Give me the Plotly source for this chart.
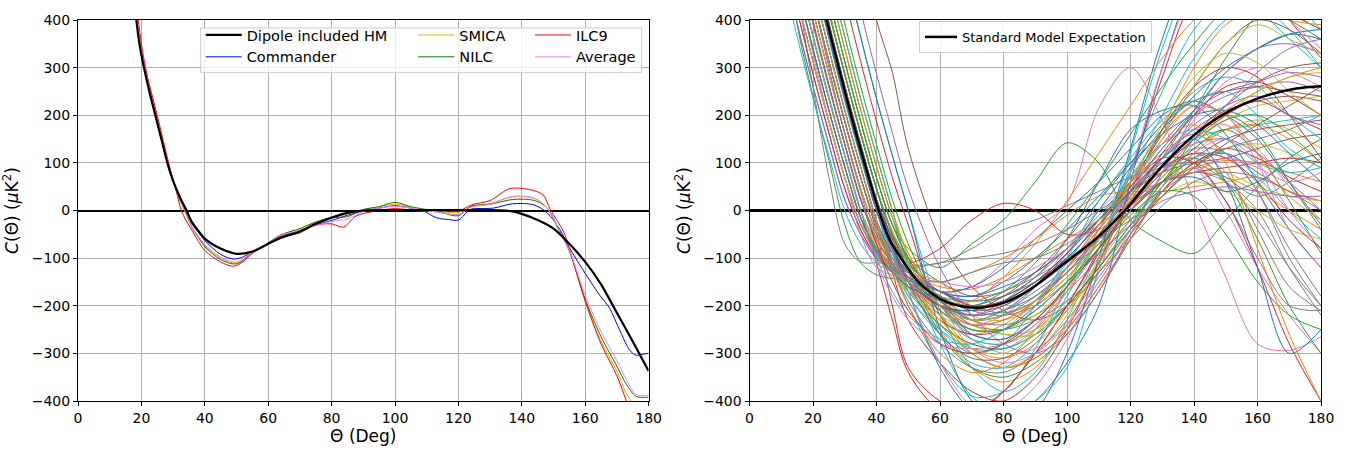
import plotly.graph_objects as go

# ---------------- Left panel data ----------------
dip_x = [17.5, 18.4, 19.5, 20.8, 22.5, 24.4, 26.3, 28.2, 30, 32, 34.2, 36, 38, 40, 45, 50, 55, 60, 63.7, 70, 75, 80, 85, 90, 100, 110, 120, 130, 136, 140, 145, 150, 155, 160, 165, 170, 175, 180]
dip_y = [480, 400, 345, 300, 250, 200, 150, 100, 62, 30, 0, -25, -43, -59, -80, -91, -86, -70, -58, -44, -28, -15, -5, 0, 1, 1, 1, 1, -1, -7, -20, -38, -70, -108, -155, -215, -275, -337]

com_x = [17.5, 18.4, 20.8, 24.4, 28.2, 30, 32, 34.4, 36, 38, 40, 45, 49.5, 55, 60, 63.7, 70, 75, 80, 85, 90, 95, 100, 105, 109, 113, 117, 120, 123.7, 127, 131, 137, 143.7, 148, 152, 155, 160, 164.7, 167.5, 171, 174, 176, 178, 180]
com_y = [480, 400, 300, 200, 100, 63, 30, 0, -28, -46, -63, -92, -102, -88, -70, -55, -42, -30, -21, -10, -1, 5, 10, 5, -1, -15, -19, -20, 2, 4, 5, 14, 12, -5, -40, -78, -132, -179, -203, -253, -293, -304, -302, -300]

smica_x = [17.5, 18.6, 21, 24.6, 28.4, 30, 32, 33.7, 36, 38, 40, 45, 50, 55, 60, 63.7, 70, 75, 80, 85, 90, 95, 100, 105, 110, 115, 120, 124, 130, 137, 144, 148, 152, 155, 160, 165, 170, 173, 175, 178]
smica_y = [480, 400, 300, 200, 100, 65, 25, 0, -35, -55, -74, -100, -110, -88, -68, -52, -38, -25, -15, -8, 2, 8, 13, 7, 0, -3, -4, 8, 15, 28, 25, 5, -45, -85, -190, -275, -337, -385, -405, -450]

nilc_x = [17.5, 18.6, 21, 24.6, 28.4, 30, 32, 33.7, 36, 38, 40, 45, 50, 55, 60, 63.7, 70, 75, 80, 85, 90, 95, 100, 105, 110, 115, 120, 124, 130, 137, 144, 148, 152, 155, 160, 165, 170, 173, 176, 180]
nilc_y = [480, 400, 300, 200, 100, 64, 24, 0, -36, -57, -76, -103, -112, -89, -68, -52, -38, -24, -15, -13, 2, 8, 17, 8, 2, -5, -11, 9, 13, 23, 21, 5, -45, -85, -186, -265, -327, -365, -390, -392]

avg_x = [17.5, 18.6, 21, 24.6, 28.4, 30, 32, 33.7, 36, 38, 40, 45, 50, 55, 60, 63.7, 70, 75, 80, 85, 90, 95, 100, 105, 110, 115, 120, 124, 130, 137, 144, 148, 152, 155, 160, 165, 170, 173, 176, 180]
avg_y = [480, 400, 300, 200, 100, 64, 24, 0, -35, -55, -72, -98, -108, -88, -69, -53, -42, -32, -23, -18, -2, 5, 9, 5, 0, -5, -8, 7, 13, 30, 26, 5, -45, -83, -178, -255, -315, -355, -386, -388]

ilc_x = [17.8, 19, 21.3, 25, 28.6, 30, 31, 32.6, 34, 36, 38, 40, 45, 49, 52, 55, 60, 63.7, 70, 74.2, 80, 83.7, 87.9, 95, 100, 107.9, 115, 120, 124.2, 130, 136.3, 143.7, 146.8, 149, 153.2, 155, 160, 165, 170, 173, 176]
ilc_y = [480, 400, 300, 200, 100, 64, 40, 0, -20, -42, -65, -84, -108, -117, -108, -90, -70, -56, -47, -32, -28, -35, -11, 0, 4, -1, -2, -1, 12, 21, 46, 42, 32, 2, -45, -80, -190, -280, -347, -400, -450]

# ---------------- Right panel data ----------------
sm_x = [14, 17, 20, 22, 24.3, 28.1, 32, 36.2, 40.7, 44, 47.7, 53.5, 62, 71.4, 80, 88.3, 98.7, 109.2, 118.2, 130.2, 140.7, 151.2, 161.7, 172.2, 180]
sm_y = [780, 640, 530, 465, 400, 300, 200, 100, 0, -59, -100, -152, -192, -204, -194, -166, -113, -59, 0, 95, 162, 209, 239, 256, 261]

theta_sim = [10, 15, 20, 25, 30, 35, 40, 45, 50, 60, 70, 80, 90, 100, 110, 120, 130, 140, 150, 160, 170, 180]
sim01 = [1120, 814, 579, 421, 287, 163, 46, -45, -110, -170, -180, -160, -130, -80, -20, 50, 130, 210, 290, 340, 370, 360]
sim02 = [876, 616, 449, 313, 187, 69, -30, -90, -130, -160, -165, -140, -100, -60, -20, 25, 60, 90, 105, 100, 80, 60]
sim03 = [620, 390, 240, 105, -30, -110, -135, -143, -148, -170, -200, -215, -190, -140, -70, 10, 110, 210, 320, 410, 450, 430]
sim04 = [876, 616, 449, 313, 187, 69, -45, -200, -330, -400, -420, -380, -300, -200, -80, 80, 280, 450, 520, 480, 400, 320]
sim05 = [616, 449, 313, 187, 69, -28, -85, -120, -150, -190, -230, -220, -180, -120, -40, 40, 110, 180, 220, 240, 200, 180]
sim06 = [2200, 1700, 1300, 1000, 760, 560, 400, 290, 130, -60, -160, -210, -230, -200, -130, -40, 40, 100, 120, 80, 40, 20]
sim07 = [1060, 752, 542, 393, 261, 139, 23, -55, -105, -170, -160, -110, -40, 15, 215, 300, 189, 20, -140, -280, -294, -265]
sim08 = [750, 470, 260, 70, -70, -108, -110, -112, -115, -110, -80, -40, -20, 10, 40, 70, 90, 100, 60, -20, -120, -200]
sim09 = [690, 505, 365, 235, 115, 0, -65, -110, -140, -200, -270, -280, -250, -190, -110, -20, 60, 130, 170, 190, 170, 130]
sim10 = [1000, 690, 505, 365, 235, 115, 0, -110, -200, -320, -390, -380, -290, -160, -40, 80, 200, 320, 400, 430, 380, 300]
sim11 = [752, 542, 393, 261, 139, 23, -50, -100, -130, -170, -160, -120, -60, 0, 60, 130, 200, 230, 200, 150, 60, -30]
sim12 = [1300, 1000, 690, 505, 365, 235, 115, 0, -100, -250, -330, -360, -330, -240, -110, 30, 170, 300, 390, 420, 410, 380]
sim13 = [1180, 876, 616, 449, 313, 187, 69, -30, -80, -120, -70, -20, 60, 142, 100, -20, -65, -90, -20, 50, 110, 150]
sim14 = [814, 579, 421, 287, 163, 46, -45, -90, -110, -80, -20, 15, 0, -50, -40, 10, 60, 80, 90, 100, 110, 100]
sim15 = [542, 393, 261, 139, 23, -50, -100, -120, -130, -170, -200, -190, -150, -90, -20, 60, 140, 210, 250, 270, 290, 280]
sim16 = [1120, 814, 579, 421, 287, 163, 46, -45, -100, -150, -180, -170, -130, -80, -20, 40, 80, 100, 110, 130, 150, 160]
sim17 = [690, 505, 365, 235, 115, 0, -80, -130, -160, -210, -240, -220, -160, -80, 0, 60, 100, 90, 0, -120, -220, -300]
sim18 = [616, 449, 313, 187, 69, -30, -85, -110, -120, -110, -100, -90, -70, -40, 0, 40, 80, 120, 80, -40, -160, -210]
sim19 = [653, 477, 339, 211, 92, -15, -80, -120, -150, -180, -230, -260, -260, -210, -130, -40, 40, 100, 130, 140, 120, 90]
sim20 = [1700, 1300, 1000, 690, 505, 365, 235, 115, 0, -210, -330, -380, -340, -230, -80, 90, 250, 380, 440, 420, 360, 300]
sim21 = [1060, 752, 542, 393, 261, 139, 23, -55, -110, -170, -190, -180, -140, -60, 60, 170, 210, 220, 160, 60, -40, -120]
sim22 = [653, 477, 339, 211, 92, -15, -75, -115, -130, -150, -130, -100, -60, -10, 30, 40, 40, 50, 60, 70, 40, 20]
sim23 = [1240, 938, 653, 477, 339, 211, 92, -15, -110, -260, -330, -350, -320, -260, -170, -60, 50, 150, 200, 160, 60, -40]
sim24 = [938, 653, 477, 339, 211, 92, -20, -130, -230, -320, -380, -400, -350, -250, -110, 40, 170, 260, 300, 280, 200, 110]
sim25 = [579, 421, 287, 163, 46, -40, -100, -130, -150, -210, -260, -270, -230, -160, -60, 40, 130, 200, 240, 260, 270, 250]
sim26 = [1120, 814, 579, 421, 287, 163, 46, -50, -120, -200, -230, -220, -190, -130, -50, 30, 110, 170, 210, 230, 240, 230]
sim27 = [1000, 690, 505, 365, 235, 115, 0, -85, -150, -240, -280, -290, -250, -170, -60, 50, 150, 220, 200, 100, -40, -120]
sim28 = [1180, 876, 616, 449, 313, 187, 69, -30, -100, -190, -220, -190, -140, -80, -10, 60, 120, 160, 120, 40, -100, -200]
sim29 = [752, 542, 393, 261, 139, 23, -55, -100, -130, -150, -220, -230, -200, -140, -60, 20, 90, 150, 190, 220, 230, 240]
sim30 = [876, 616, 449, 313, 187, 69, -30, -110, -180, -260, -320, -330, -280, -180, -60, 60, 170, 250, 280, 260, 200, 150]
sim31 = [616, 449, 313, 187, 69, -28, -90, -130, -160, -190, -230, -210, -160, -90, 0, 90, 170, 240, 300, 340, 370, 380]
sim32 = [1060, 752, 542, 393, 261, 139, 23, -60, -130, -230, -260, -240, -190, -120, -40, 30, 60, 80, 70, 40, 0, -40]
sim33 = [752, 542, 393, 261, 139, 23, -60, -110, -150, -200, -220, -210, -180, -130, -70, 0, 60, 110, 60, -60, -200, -300]
sim34 = [1540, 1180, 876, 616, 449, 313, 187, 69, -30, -220, -300, -330, -310, -250, -160, -60, 40, 100, 130, 110, 70, 40]
sim35 = [1120, 814, 579, 421, 287, 163, 46, -45, -110, -190, -220, -210, -170, -120, -60, 10, 80, 130, 120, 40, -80, -180]
sim36 = [814, 579, 421, 287, 163, 46, -45, -110, -150, -200, -210, -180, -130, -60, 20, 100, 180, 230, 250, 260, 250, 240]
sim37 = [690, 505, 365, 235, 115, 0, -70, -130, -170, -200, -270, -300, -290, -240, -150, -40, 80, 190, 270, 300, 290, 260]
sim38 = [1000, 690, 505, 365, 235, 115, 0, -80, -130, -180, -190, -170, -140, -100, -60, -20, 30, 90, 20, -100, -200, -210]
sim39 = [1300, 1000, 690, 505, 365, 235, 115, 0, -90, -190, -240, -260, -250, -200, -120, -30, 30, 60, 40, 0, -40, -60]
sim40 = [505, 365, 235, 115, 0, -70, -110, -130, -150, -220, -270, -280, -240, -160, -60, 40, 110, 150, 170, 180, 190, 200]
sim41 = [1120, 814, 579, 421, 287, 163, 46, -70, -170, -330, -420, -440, -400, -320, -200, 60, 300, 480, 560, 520, 460, 420]
sim42 = [938, 653, 477, 339, 211, 92, -20, -100, -160, -240, -300, -330, -310, -250, -160, -60, 40, 120, 170, 180, 150, 100]
sim43 = [1380, 1060, 752, 542, 393, 261, 139, 23, -70, -200, -250, -250, -210, -150, -80, 0, 70, 130, 170, 120, 20, -90]
sim44 = [690, 505, 365, 235, 115, 0, -110, -230, -340, -420, -430, -380, -300, -200, -90, 20, 120, 200, 260, 270, 240, 200]
sim45 = [1000, 690, 505, 365, 235, 115, 0, -80, -130, -200, -220, -200, -160, -100, -30, 40, 100, 140, 150, 120, 60, 0]
sim46 = [653, 477, 339, 211, 92, -15, -80, -120, -145, -180, -210, -200, -160, -110, -50, 20, 90, 160, 220, 270, 300, 310]
sim47 = [1060, 752, 542, 393, 261, 139, 23, -80, -170, -320, -410, -420, -370, -270, -130, 80, 300, 460, 500, 460, 400, 340]
sim48 = [814, 579, 421, 287, 163, 46, -45, -100, -140, -180, -230, -240, -220, -170, -100, -20, 40, 80, 60, 0, -120, -220]
sim49 = [814, 579, 421, 287, 163, 46, -45, -110, -160, -220, -250, -250, -220, -160, -80, 0, 60, 90, 80, 50, 30, 20]
sim50 = [1300, 1000, 690, 505, 365, 235, 115, 0, -120, -280, -390, -430, -400, -330, -120, 120, 340, 500, 560, 520, 450, 380]
sim51 = [938, 653, 477, 339, 211, 92, -20, -90, -130, -170, -180, -150, -100, -40, 30, 100, 160, 200, 210, 180, 120, 60]
sim52 = [752, 542, 393, 261, 139, 23, -60, -110, -150, -220, -290, -310, -280, -210, -110, 0, 90, 160, 210, 250, 280, 300]
sim53 = [876, 616, 449, 313, 187, 69, -30, -110, -170, -240, -280, -290, -260, -200, -120, -30, 60, 140, 190, 200, 160, 100]
sim54 = [579, 421, 287, 163, 46, -40, -95, -125, -140, -170, -200, -190, -150, -100, -30, 40, 90, 120, 110, 60, -20, -80]
sim55 = [1900, 1460, 1120, 814, 579, 421, 287, 163, 46, -120, -220, -280, -300, -260, -170, -50, 80, 200, 290, 340, 350, 330]
sim56 = [1060, 752, 542, 393, 261, 139, 23, -60, -120, -190, -200, -180, -150, -110, -60, 0, 60, 110, 150, 170, 180, 190]
sim57 = [653, 477, 339, 211, 92, -15, -110, -180, -230, -280, -290, -280, -240, -170, -80, 20, 110, 170, 180, 130, 50, -20]
sim58 = [616, 449, 313, 187, 69, -28, -90, -125, -150, -190, -240, -250, -230, -190, -130, -60, 10, 60, 80, 70, 40, 0]
sim59 = [1120, 814, 579, 421, 287, 163, 46, -45, -110, -200, -230, -220, -190, -140, -70, 0, 70, 140, 200, 250, 280, 290]
sim60 = [938, 653, 477, 339, 211, 92, -20, -110, -180, -250, -290, -290, -260, -200, -120, -30, 50, 110, 120, 70, 0, -60]
sim61 = [1700, 1300, 1000, 690, 505, 365, 235, 115, 0, -250, -400, -450, -420, -300, -100, 130, 360, 520, 560, 500, 420, 380]
sim62 = [752, 542, 393, 261, 139, 23, -60, -120, -160, -200, -190, -140, -70, 20, 120, 220, 320, 400, 450, 430, 400, 390]
sim63 = [1180, 876, 616, 449, 313, 187, 69, -30, -100, -180, -200, -170, -110, -30, 60, 160, 260, 350, 420, 430, 400, 360]
sim64 = [876, 616, 449, 313, 187, 69, -30, -100, -150, -200, -210, -190, -150, -90, -20, 50, 110, 100, 20, -120, -280, -400]
sim65 = [542, 393, 261, 139, 23, -50, -100, -125, -140, -170, -210, -220, -200, -150, -90, -30, 20, 40, 50, 40, 30, 30]
sim66 = [1000, 690, 505, 365, 235, 115, 0, -90, -150, -230, -260, -250, -200, -120, -30, 60, 160, 260, 350, 400, 380, 330]
sim67 = [700, 480, 330, 190, 70, -50, -120, -135, -140, -150, -160, -150, -120, -80, -30, 20, 60, 80, 110, 90, 60, 80]
sim68 = [900, 620, 450, 300, 160, 40, -70, -120, -140, -150, -130, -110, -100, -70, -20, 40, 90, 110, 70, 30, 60, 110]
sim69 = [690, 505, 365, 235, 115, 0, -75, -130, -170, -230, -300, -330, -300, -220, -100, 30, 150, 260, 350, 390, 360, 330]
sim70 = [1050, 720, 510, 360, 230, 110, 0, -90, -160, -250, -300, -280, -200, -100, 20, 110, 190, 230, 250, 200, 130, 90]
sim71 = [653, 477, 339, 211, 92, -15, -85, -130, -160, -190, -260, -270, -230, -160, -80, 0, 60, 70, 40, 60, 100, 120]
sim72 = [950, 660, 480, 340, 210, 90, -20, -120, -200, -300, -340, -320, -250, -150, -40, 70, 160, 220, 200, 120, 30, -20]
sim73 = [1100, 800, 570, 415, 285, 160, 45, -50, -120, -210, -250, -250, -210, -150, -80, -10, 40, 30, -50, -150, -220, -250]
sim74 = [780, 560, 400, 265, 140, 25, -70, -150, -210, -280, -300, -280, -230, -160, -80, 10, 90, 150, 200, 230, 200, 170]
sim75 = [752, 542, 393, 261, 139, 23, -60, -110, -150, -200, -240, -230, -190, -130, -60, 10, 80, 150, 220, 290, 340, 360]
sim76 = [1080, 760, 545, 395, 262, 140, 24, -70, -150, -260, -310, -310, -270, -200, -120, -40, 30, 90, 140, 180, 220, 260]
sim77 = [876, 616, 449, 313, 187, 69, -30, -100, -150, -200, -290, -320, -300, -240, -150, -50, 50, 120, 150, 100, 0, -80]
sim78 = [880, 620, 450, 315, 190, 70, -35, -120, -190, -280, -330, -340, -300, -230, -140, -50, 30, 90, 130, 150, 170, 200]
sim79 = [616, 449, 313, 187, 69, -28, -95, -140, -170, -230, -290, -300, -260, -170, -60, 60, 180, 280, 330, 310, 250, 200]
sim80 = [700, 510, 370, 240, 118, 0, -100, -170, -220, -270, -280, -250, -190, -110, -20, 70, 140, 170, 150, 100, 80, 90]
sim81 = [1000, 690, 505, 365, 235, 115, 0, -80, -140, -200, -210, -190, -150, -100, -30, 40, 110, 150, 60, -120, -300, -250]
sim82 = [1250, 940, 655, 478, 340, 212, 93, -15, -90, -200, -240, -230, -190, -120, -30, 60, 140, 180, 100, -80, -260, -400]

SIMS = [sim01, sim02, sim03, sim04, sim05, sim06, sim07, sim08, sim09, sim10,
        sim11, sim12, sim13, sim14, sim15, sim16, sim17, sim18, sim19, sim20,
        sim21, sim22, sim23, sim24, sim25, sim26, sim27, sim28, sim29, sim30,
        sim31, sim32, sim33, sim34, sim35, sim36, sim37, sim38, sim39, sim40,
        sim41, sim42, sim43, sim44, sim45, sim46, sim47, sim48, sim49, sim50,
        sim51, sim52, sim53, sim54, sim55, sim56, sim57, sim58, sim59, sim60,
        sim61, sim62, sim63, sim64, sim65, sim66, sim67, sim68, sim69, sim70,
        sim71, sim72, sim73, sim74, sim75, sim76, sim77, sim78, sim79, sim80,
        sim81, sim82]

TAB10 = ["#1f77b4", "#ff7f0e", "#2ca02c", "#d62728", "#9467bd",
         "#8c564b", "#e377c2", "#7f7f7f", "#bcbd22", "#17becf"]

X_TICKS = [0, 20, 40, 60, 80, 100, 120, 140, 160, 180]
Y_TICKS = [-400, -300, -200, -100, 0, 100, 200, 300, 400]

FONT = "DejaVu Sans"

fig = go.Figure()

# Left panel curves
left_series = [
    ("Commander", com_x, com_y, "blue", 1.0, "legend", 2),
    ("SMICA", smica_x, smica_y, "orange", 1.0, "legend2", 1),
    ("NILC", nilc_x, nilc_y, "green", 1.0, "legend2", 2),
    ("ILC9", ilc_x, ilc_y, "red", 1.0, "legend3", 1),
    ("Average", avg_x, avg_y, "violet", 1.0, "legend3", 2),
    ("Dipole included HM", dip_x, dip_y, "black", 2.2, "legend", 1),
]
for name, xs, ys, col, w, leg, rank in left_series:
    fig.add_trace(go.Scatter(
        x=xs, y=ys, mode="lines", name=name,
        line=dict(color=col, width=w, shape="spline", smoothing=0.9),
        legend=leg, legendrank=rank, xaxis="x", yaxis="y",
        hoverinfo="skip"))

# Right panel simulations
for i, ys in enumerate(SIMS):
    fig.add_trace(go.Scatter(
        x=theta_sim, y=ys, mode="lines",
        line=dict(color=TAB10[i % 10], width=1, shape="spline", smoothing=0.9),
        showlegend=False, xaxis="x2", yaxis="y2", hoverinfo="skip"))

fig.add_trace(go.Scatter(
    x=sm_x, y=sm_y, mode="lines", name="Standard Model Expectation",
    line=dict(color="black", width=2.5, shape="spline", smoothing=0.9),
    legend="legend4", xaxis="x2", yaxis="y2", hoverinfo="skip"))

axis_common = dict(
    showgrid=True, gridcolor="#b0b0b0", gridwidth=0.8,
    showline=True, linecolor="black", linewidth=1, mirror=True,
    ticks="outside", ticklen=4, tickcolor="black",
    tickfont=dict(family=FONT, size=14, color="black"),
)

plot_l, plot_r, plot_t, plot_b = 78, 25, 15, 40
W, H = 1346, 453
pw = W - plot_l - plot_r
ph = H - plot_t - plot_b


def px_x(px):
    return (px - plot_l) / pw


def px_y(py):
    return 1 - (py - plot_t) / ph


xtitle = dict(text="Θ (Deg)", font=dict(family=FONT, size=17, color="black"), standoff=3)
ytitle = dict(text="<i>C</i>(Θ) (<i>μ</i>K<sup>2</sup>)", font=dict(family=FONT, size=17, color="black"), standoff=8)

fig.update_layout(
    width=W, height=H,
    margin=dict(l=plot_l, r=plot_r, t=plot_t, b=plot_b),
    paper_bgcolor="white", plot_bgcolor="white",
    font=dict(family=FONT, color="black"),
    xaxis=dict(domain=[0, px_x(648.6)], range=[0, 180], tickvals=X_TICKS,
               zeroline=False, anchor="y", title=xtitle, **axis_common),
    yaxis=dict(domain=[0, 1], range=[-400, 400], tickvals=Y_TICKS,
               zeroline=True, zerolinecolor="black", zerolinewidth=1.5,
               anchor="x", title=ytitle, **axis_common),
    xaxis2=dict(domain=[px_x(749.5), 1], range=[0, 180], tickvals=X_TICKS,
                zeroline=False, anchor="y2", title=xtitle, **axis_common),
    yaxis2=dict(domain=[0, 1], range=[-400, 400], tickvals=Y_TICKS,
                zeroline=True, zerolinecolor="black", zerolinewidth=2.5,
                anchor="x2", title=ytitle, **axis_common),
    legend=dict(x=px_x(200.7), y=px_y(14.0), xanchor="left", yanchor="top",
                bgcolor="rgba(0,0,0,0)", borderwidth=0, itemwidth=36,
                font=dict(family=FONT, size=14.5, color="black")),
    legend2=dict(x=px_x(413.3), y=px_y(14.0), xanchor="left", yanchor="top",
                 bgcolor="rgba(0,0,0,0)", borderwidth=0, itemwidth=36,
                 font=dict(family=FONT, size=14.5, color="black")),
    legend3=dict(x=px_x(530), y=px_y(14.0), xanchor="left", yanchor="top",
                 bgcolor="rgba(0,0,0,0)", borderwidth=0, itemwidth=36,
                 font=dict(family=FONT, size=14.5, color="black")),
    legend4=dict(x=px_x(919), y=px_y(16.0), xanchor="left", yanchor="top",
                 bgcolor="rgba(255,255,255,0.85)", bordercolor="#cccccc",
                 borderwidth=1, itemwidth=32,
                 font=dict(family=FONT, size=13, color="black")),
    shapes=[dict(type="rect", xref="paper", yref="paper",
                 x0=px_x(200.7), x1=px_x(641.7), y0=px_y(70), y1=px_y(23.3),
                 fillcolor="rgba(255,255,255,0.8)",
                 line=dict(color="#cccccc", width=1), layer="above")],
)

fig.write_html("out.html")
